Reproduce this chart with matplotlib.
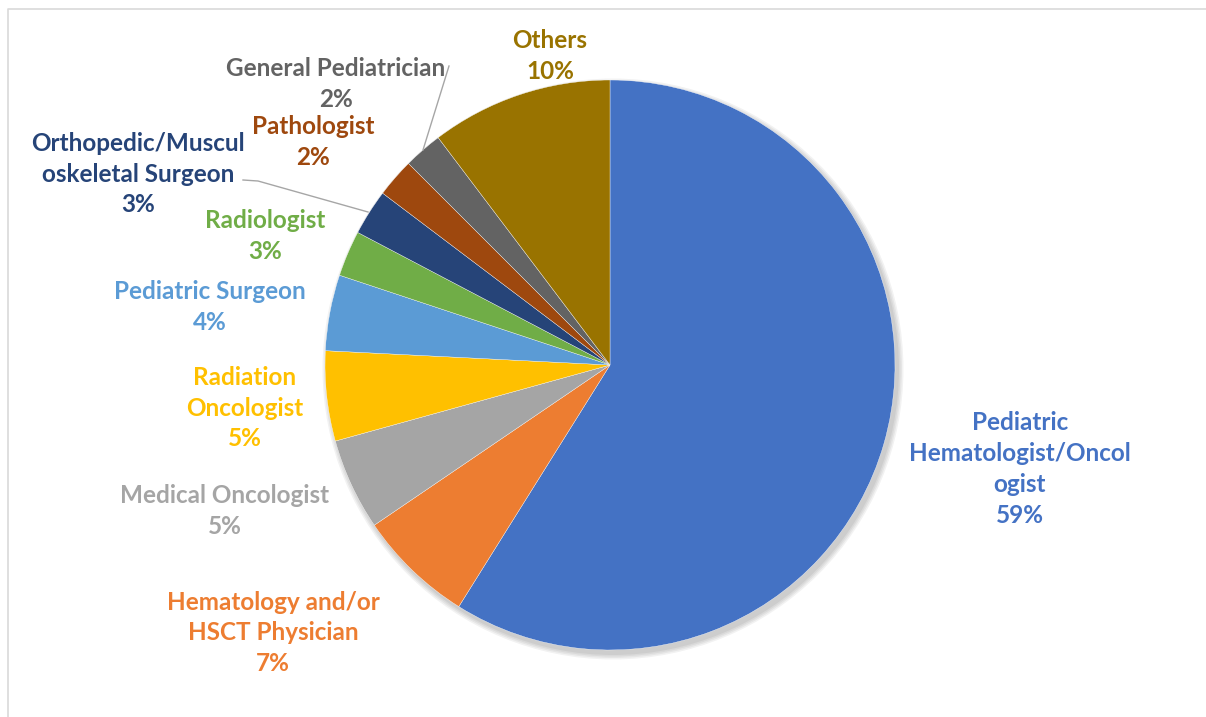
import matplotlib
matplotlib.use("Agg")
import matplotlib.pyplot as plt
from matplotlib.patches import Circle

categories = ["Pediatric\nHematologist/Oncol\nogist", "Hematology and/or\nHSCT Physician",
              "Medical Oncologist", "Radiation\nOncologist", "Pediatric Surgeon",
              "Radiologist", "Orthopedic/Muscul\noskeletal Surgeon", "Pathologist",
              "General Pediatrician", "Others"]
shares = [58.9, 6.6, 5.2, 5.1, 4.3, 2.6, 2.6, 2.2, 2.2, 10.3]
colors = ["#4472C4", "#ED7D31", "#A5A5A5", "#FFC000", "#5B9BD5",
          "#70AD47", "#264478", "#9E480E", "#636363", "#997300"]

W, H = 1206, 717
fig = plt.figure(figsize=(W / 100, H / 100), dpi=100)
ax = fig.add_axes([0, 0, 1, 1])

# frame (left and top edges visible)
ax.plot([7.5, 7.5, W + 5], [-5, H - 8.5, H - 8.5], color="#D9D9D9",
        linewidth=1.2, zorder=0)

cx, cy, R = 610, H - 365, 285
# soft shadow
for i, a in enumerate([0.05, 0.05, 0.05, 0.05]):
    ax.add_patch(Circle((cx + 3, cy - 4), R + 1 + i * 1.5, color="black",
                        alpha=a, linewidth=0, zorder=1))

wedges, _ = ax.pie(shares, colors=colors, startangle=90, counterclock=False,
                   center=(cx, cy), radius=R, frame=True,
                   wedgeprops=dict(edgecolor="white", linewidth=0.25, zorder=2))
ax.set_xlim(0, W)
ax.set_ylim(0, H)
ax.axis("off")

# label positions (pixel coords of text block centre)
label_pos = [(1020, 469), (273, 633), (225, 511), (245, 408), (210, 307),
             (265, 236), (138, 174), (313, 142), (336, 84), (550, 56)]

for cat, v, (px, py), c in zip(categories, shares, label_pos, colors):
    ax.text(px, H - py, f"{cat}\n{round(v)}%", ha="center", va="center",
            color=c, fontsize=17.5, fontweight="bold", family="Lato",
            linespacing=1.42, zorder=5)

# leader lines
ax.plot([449, 423], [H - 66, H - 150], color="#A6A6A6", linewidth=1, zorder=4)
ax.plot([243, 258, 368], [H - 180, H - 181, H - 212], color="#A6A6A6",
        linewidth=1, zorder=4)

fig.savefig("out.png", dpi=100)
